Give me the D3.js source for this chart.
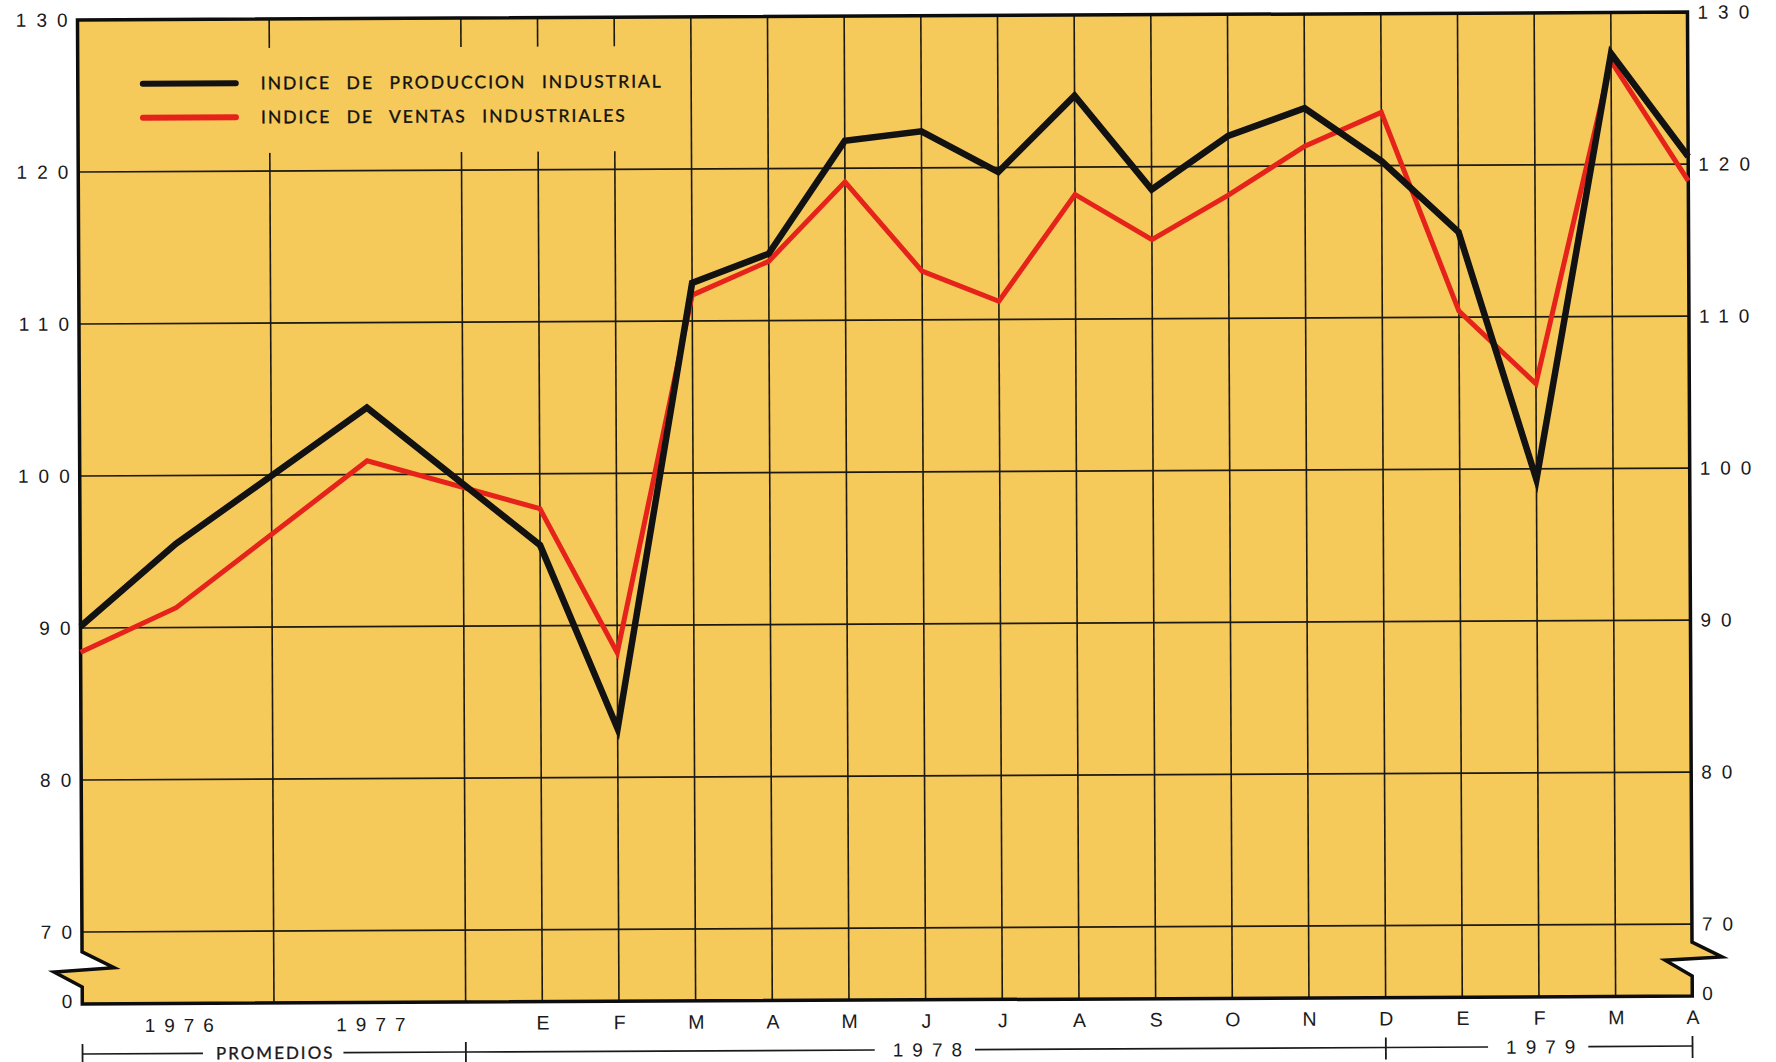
<!DOCTYPE html>
<html>
<head>
<meta charset="utf-8">
<script src="https://cdn.jsdelivr.net/npm/d3@7/dist/d3.min.js"></script>
<style>
body { margin: 0; background: #ffffff; }
</style>
</head>
<body>
<svg id="chart" width="1776" height="1062"></svg>
<script>
// tiempo en meses contados desde enero 1978 (los promedios van comprimidos)
var periodos = ["1975", "1976", "1977", "E", "F", "M", "A", "M", "J", "J", "A", "S", "O", "N", "D", "E", "F", "M", "A"];
var tiempo = [-6, -4.75, -2.25, 0, 1, 2, 3, 4, 5, 6, 7, 8, 9, 10, 11, 12, 13, 14, 15];
var produccion = [90.1, 95.5, 104.4, 95.3, 83.2, 112.5, 114.4, 121.8, 122.4, 119.7, 124.7, 118.5, 122.0, 123.8, 120.3, 115.6, 99.3, 127.3, 120.5];
var ventas = [88.4, 91.3, 100.9, 97.7, 88.2, 111.7, 113.9, 119.1, 113.2, 111.2, 118.2, 115.2, 118.1, 121.3, 123.5, 110.4, 105.6, 126.8, 118.9];

var yTicks = [70, 80, 90, 100, 110, 120, 130];
var meses = ["E", "F", "M", "A", "M", "J", "J", "A", "S", "O", "N", "D", "E", "F", "M", "A"];
var mesesPos = [0, 1, 2, 3, 4, 5, 6, 7, 8, 9, 10, 11, 12, 13, 14, 15];
var promedios = ["1976", "1977"];
var promediosPos = [-4.75, -2.25];
var separadores = [-3.5, -1];
var tramos = ["PROMEDIOS", "1978", "1979"];
var tramosDesde = [-6, -1, 11];
var tramosHasta = [-1, 11, 15];

var series = [
    {nombre: "INDICE DE VENTAS INDUSTRIALES", valores: ventas, color: "#e5231b", ancho: 5},
    {nombre: "INDICE DE PRODUCCION INDUSTRIAL", valores: produccion, color: "#121212", ancho: 6.5}
];

// el original esta escaneado un poco torcido
var svg = d3.select("#chart").append("g")
    .attr("transform", "rotate(-0.28,888,531)");
var amarillo = "#f6c95b";
var tinta = "#1c1a12";
var numFont = "'Liberation Sans', Arial, sans-serif";
var letraFont = "Lato, 'Open Sans', sans-serif";

var x = d3.scaleLinear().domain([-6, 15]).range([80, 1690]);
var y = d3.scaleLinear().domain([70, 130]).range([928, 16]);
var yBase = 1000;
var x0 = x(-6), x1 = x(15), y70 = y(70);

//Fondo amarillo con el corte del eje entre 70 y 0
var contorno = d3.path();
contorno.moveTo(x0, yBase);
contorno.lineTo(x0, y70 + 55);
contorno.lineTo(x0 - 28, y70 + 40);
contorno.lineTo(x0 + 32, y70 + 36);
contorno.lineTo(x0, y70 + 20);
contorno.lineTo(x0, y(130));
contorno.lineTo(x1, y(130));
contorno.lineTo(x1, y70 + 18);
contorno.lineTo(x1 + 30, y70 + 33);
contorno.lineTo(x1 - 27, y70 + 36);
contorno.lineTo(x1, y70 + 52);
contorno.lineTo(x1, yBase);
contorno.closePath();

svg.append("path")
    .attr("d", contorno.toString())
    .style("fill", amarillo);

//Rejilla horizontal
svg.append("g").selectAll("line")
    .data(yTicks.slice(0, -1))
    .enter()
    .append("line")
    .attr("x1", x0).attr("x2", x1)
    .attr("y1", function(d){return y(d);})
    .attr("y2", function(d){return y(d);})
    .style("stroke", tinta)
    .style("stroke-width", 1.6);

//Rejilla vertical: separadores de promedios y meses
svg.append("g").selectAll("line")
    .data(separadores.concat(mesesPos.slice(0, -1)))
    .enter()
    .append("line")
    .attr("x1", function(d){return x(d);})
    .attr("x2", function(d){return x(d);})
    .attr("y1", y(130)).attr("y2", yBase)
    .style("stroke", tinta)
    .style("stroke-width", 1.6);

//La leyenda tapa la rejilla
svg.append("rect")
    .attr("x", x0 + 2).attr("y", 45)
    .attr("width", 594).attr("height", 105)
    .style("fill", amarillo);

//Borde grueso
svg.append("path")
    .attr("d", contorno.toString())
    .style("fill", "none")
    .style("stroke", "#0d0d0d")
    .style("stroke-width", 3.5)
    .style("stroke-linejoin", "miter");

//Lineas de los indices
var linea = d3.line()
    .x(function(d, i){return x(tiempo[i]);})
    .y(function(d){return y(d);});

svg.append("g").selectAll("path")
    .data(series)
    .enter()
    .append("path")
    .attr("d", function(s){return linea(s.valores);})
    .style("fill", "none")
    .style("stroke", function(s){return s.color;})
    .style("stroke-width", function(s){return s.ancho;})
    .style("stroke-linejoin", "miter")
    .style("stroke-miterlimit", 6);

//Leyenda
var leyenda = svg.append("g").selectAll("g")
    .data(series.slice().reverse())
    .enter()
    .append("g")
    .attr("transform", function(s, i){return "translate(145," + (80 + i*34) + ")";});

leyenda.append("line")
    .attr("x1", 0).attr("x2", 93)
    .style("stroke", function(s){return s.color;})
    .style("stroke-width", 6)
    .style("stroke-linecap", "round");

leyenda.append("text")
    .attr("x", 118)
    .attr("dy", "0.36em")
    .text(function(s){return s.nombre;})
    .style("font-family", letraFont)
    .style("font-size", "17.5px")
    .style("letter-spacing", "2px")
    .style("word-spacing", "9px")
    .style("stroke", "#111")
    .style("stroke-width", 0.35)
    .style("fill", "#111");

//Ejes de valores, izquierda y derecha
var ejeIzq = svg.append("g")
    .attr("transform", "translate(" + x0 + ",0)")
    .call(d3.axisLeft(y).tickValues(yTicks).tickSize(0).tickPadding(0));
var ejeDer = svg.append("g")
    .attr("transform", "translate(" + x1 + ",0)")
    .call(d3.axisRight(y).tickValues(yTicks).tickSize(0).tickPadding(10));

[ejeIzq, ejeDer].forEach(function(eje){
    eje.select(".domain").remove();
    eje.selectAll("text")
        .style("font-family", numFont)
        .style("font-size", "19px")
        .style("letter-spacing", "10px")
        .style("fill", "#1a1a1a");
});

//El cero del corte
svg.append("g").selectAll("text")
    .data([[x0, "end", 0], [x1, "start", 10]])
    .enter()
    .append("text")
    .attr("x", function(d){return d[0] + (d[1] == "end" ? -d[2] : d[2]);})
    .attr("y", yBase - 2)
    .attr("dy", "0.32em")
    .attr("text-anchor", function(d){return d[1];})
    .text("0")
    .style("font-family", numFont)
    .style("font-size", "19px")
    .style("letter-spacing", "10px")
    .style("fill", "#1a1a1a");

//Meses y promedios bajo el grafico
var ejeMeses = svg.append("g")
    .attr("transform", "translate(0," + yBase + ")")
    .call(d3.axisBottom(x).tickValues(mesesPos).tickSize(0).tickPadding(14)
        .tickFormat(function(d, i){return meses[i];}));
var ejePromedios = svg.append("g")
    .attr("transform", "translate(0," + yBase + ")")
    .call(d3.axisBottom(x).tickValues(promediosPos).tickSize(0).tickPadding(15)
        .tickFormat(function(d, i){return promedios[i];}));

ejeMeses.selectAll("text").style("font-size", "19.5px");
ejePromedios.selectAll("text").style("font-size", "19px").style("letter-spacing", "9px").attr("dx", 5);
[ejeMeses, ejePromedios].forEach(function(eje){
    eje.select(".domain").remove();
    eje.selectAll("text")
        .style("font-family", numFont)
        .style("fill", "#1a1a1a");
});

//Corchetes de PROMEDIOS / 1978 / 1979
var yCorchete = 1050;
var corchetes = svg.append("g").selectAll("g")
    .data(tramos)
    .enter()
    .append("g");

corchetes.append("text")
    .attr("x", function(d, i){return x((tramosDesde[i] + tramosHasta[i]) / 2);})
    .attr("y", yCorchete)
    .attr("dy", "0.35em")
    .attr("dx", function(d){return d == "PROMEDIOS" ? 1 : 6;})
    .attr("text-anchor", "middle")
    .text(function(d){return d;})
    .style("font-family", function(d){return d == "PROMEDIOS" ? letraFont : numFont;})
    .style("font-size", function(d){return d == "PROMEDIOS" ? "17px" : "19px";})
    .style("letter-spacing", function(d){return d == "PROMEDIOS" ? "2px" : "9px";})
    .style("stroke", function(d){return d == "PROMEDIOS" ? "#111" : "none";})
    .style("stroke-width", 0.3)
    .style("fill", "#1a1a1a");

corchetes.each(function(d, i){
    var g = d3.select(this);
    var t = g.select("text").node();
    var w = t.getComputedTextLength();
    var cx = x((tramosDesde[i] + tramosHasta[i]) / 2);
    var tramoLineas = [[x(tramosDesde[i]), cx - w/2 - 12], [cx + w/2 + 10, x(tramosHasta[i])]];
    g.selectAll("line.tramo")
        .data(tramoLineas)
        .enter()
        .append("line")
        .attr("class", "tramo")
        .attr("x1", function(p){return p[0];})
        .attr("x2", function(p){return p[1];})
        .attr("y1", yCorchete).attr("y2", yCorchete)
        .style("stroke", "#1a1a1a")
        .style("stroke-width", 1.6);
});

svg.append("g").selectAll("line")
    .data([-6, -1, 11, 15])
    .enter()
    .append("line")
    .attr("x1", function(d){return x(d);})
    .attr("x2", function(d){return x(d);})
    .attr("y1", yCorchete - 10).attr("y2", yCorchete + 12)
    .style("stroke", "#1a1a1a")
    .style("stroke-width", 1.8);
</script>
</body>
</html>
